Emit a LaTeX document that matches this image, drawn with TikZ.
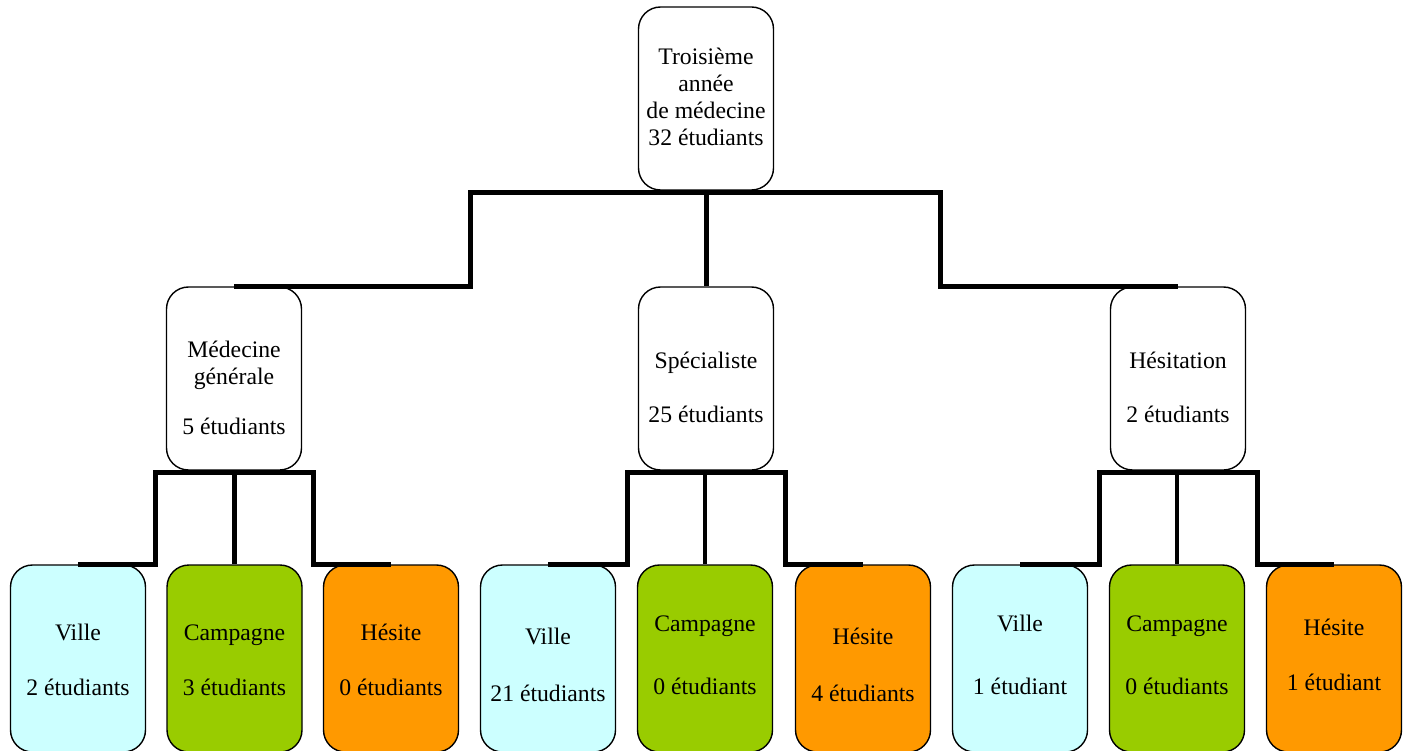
\documentclass[tikz,border=0pt]{standalone}
\usepackage{fontspec}
\setmainfont{Liberation Serif}
\usetikzlibrary{calc}
\definecolor{villec}{HTML}{CCFFFF}
\definecolor{campc}{HTML}{99CC00}
\definecolor{hesc}{HTML}{FF9900}
\begin{document}
\begin{tikzpicture}[x=1pt,y=-1pt,
  box/.style={draw,line width=1.4pt,rounded corners=22pt,minimum width=135pt,inner sep=0pt},
  topbox/.style={box,minimum height=183pt},
  midbox/.style={box,minimum height=183pt},
  botbox/.style={box,minimum height=187pt},
  txt/.style={align=center,inner sep=0pt,font=\fontsize{23.7}{27}\selectfont},
  conn/.style={line width=5pt,line join=miter}]
\useasboundingbox (0,0) rectangle (1412,751);
% top
\node[topbox] (t) at (706,98.5) {};
% middle
\node[midbox] (m1) at (234,378.5) {};
\node[midbox] (m2) at (706,378.5) {};
\node[midbox] (m3) at (1178,378.5) {};
% bottom
\node[botbox,fill=villec] (b11) at (78,658.5) {};
\node[botbox,fill=campc] (b12) at (234.5,658.5) {};
\node[botbox,fill=hesc] (b13) at (391,658.5) {};
\node[botbox,fill=villec] (b21) at (548,658.5) {};
\node[botbox,fill=campc] (b22) at (705,658.5) {};
\node[botbox,fill=hesc] (b23) at (863,658.5) {};
\node[botbox,fill=villec] (b31) at (1020,658.5) {};
\node[botbox,fill=campc] (b32) at (1177,658.5) {};
\node[botbox,fill=hesc] (b33) at (1334,658.5) {};
% texts
\node[txt] (tt) at ($(t)+(0,-2)$) {Troisième\\année\\de médecine\\32 étudiants};
\node[txt] (m1t) at ($(m1)+(0,9)$) {Médecine\\générale\\[23pt]5 étudiants};
\node[txt] (m2t) at ($(m2)+(0,8.5)$) {Spécialiste\\[27pt]25 étudiants};
\node[txt] (m3t) at ($(m3)+(0,8.5)$) {Hésitation\\[27pt]2 étudiants};
\node[txt] (b11t) at ($(b11)+(0,1.5)$) {Ville\\[28pt]2 étudiants};
\node[txt] (b12t) at ($(b12)+(0,1.5)$) {Campagne\\[28pt]3 étudiants};
\node[txt] (b13t) at ($(b13)+(0,1.5)$) {Hésite\\[28pt]0 étudiants};
\node[txt] (b21t) at ($(b21)+(0,6)$) {Ville\\[30pt]21 étudiants};
\node[txt] (b22t) at ($(b22)+(0,-3.5)$) {Campagne\\[36pt]0 étudiants};
\node[txt] (b23t) at ($(b23)+(0,6)$) {Hésite\\[30pt]4 étudiants};
\node[txt] (b31t) at ($(b31)+(0,-3.5)$) {Ville\\[36pt]1 étudiant};
\node[txt] (b32t) at ($(b32)+(0,-3.5)$) {Campagne\\[36pt]0 étudiants};
\node[txt] (b33t) at ($(b33)+(0,-3.5)$) {Hésite\\[28pt]1 étudiant};
% top connectors
\coordinate (ja) at (470,193);
\coordinate (jb) at (940,193);
\draw[conn] (m1.north) -| (ja) -- (jb) |- (m3.north);
\draw[conn] (t.south |- ja) -- (m2.north);
% lower connectors
\foreach \m/\a/\b/\c in {m1/b11/b12/b13, m2/b21/b22/b23, m3/b31/b32/b33}{
  \coordinate (L) at ($(\m.south)+(-79,2)$);
  \coordinate (R) at ($(\m.south)+(79,2)$);
  \draw[conn] (\a.north) -| (L) -- (R) |- (\c.north);
  \draw[conn,line width=4.5pt] (\b.north |- L) -- (\b.north);
}
\end{tikzpicture}
\end{document}
